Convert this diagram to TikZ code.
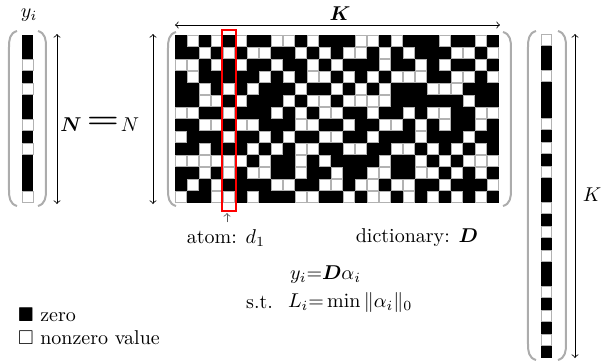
\documentclass[tikz,border=0pt]{standalone}
\usepackage{amssymb}
\usepackage{amsmath}
\usepackage{bm}
\usetikzlibrary{arrows}

\tikzset{
  paren/.style={draw=gray!65, line width=1pt},
  dimline/.style={<->, >=to, line width=0.4pt},
  nzcell/.style={fill=white, draw=gray!60, line width=0.3pt},
}

\begin{document}
\begin{tikzpicture}[x=0.5pt,y=-0.5pt]
	\useasboundingbox (0,0) rectangle (602,361);

	% signal y_i
	\fill (22,35) rectangle (33.5,203);
	\foreach \r in {3,5,8,10,14}
		\draw[nzcell] (22.5,{35+12*(\r-1)+0.5}) rectangle ++(10.5,11);
	\draw[paren] (17,31) .. controls (10,33) and (9,39) .. (9,47) -- (9,190) .. controls (9,198) and (10,204) .. (17,206);
	\draw[paren] (38,31) .. controls (45,33) and (46,39) .. (46,47) -- (46,190) .. controls (46,198) and (45,204) .. (38,206);
	\node (ylab) at (29,15) {$y_i$};

	% dimension N
	\coordinate (nleftTop) at (57,34);
	\coordinate (nleftBot) at (57,204);
	\coordinate (nrightTop) at (153,34);
	\coordinate (nrightBot) at (153,204);
	\draw[dimline] (nleftTop) -- (nleftBot);
	\draw[dimline] (nrightTop) -- (nrightBot);
	\node (nbold) at (71,125) {$\bm{N}$};
	\node (eqsign) at (103,122) {\scalebox{1.8}[1.3]{$\bm{=}$}};
	\node (nital) at (130,125) {$N$};

	% dictionary D
	\fill (175,35) rectangle (499,203);
	\foreach \r/\cs in {
			1/{2,4,6,9,10,12,16,17,19,23,26},
			2/{3,5,7,8,11,13,15,16,18,20,24,25,27},
			3/{1,2,4,6,9,12,14,18,21,23,26},
			4/{2,8,10,12,13,15,17,19,20,21,24,25,27},
			5/{3,5,7,11,14,16,18,22,23,24},
			6/{3,4,6,10,12,13,15,16,17,18,25},
			7/{1,2,5,9,11,13,14,17,20,22,23,26,27},
			8/{3,4,6,7,11,12,15,18,19,21,23,26},
			9/{1,5,8,10,13,14,17,21,25},
			10/{3,7,9,11,12,15,16,19,20,22,24,26},
			11/{1,2,3,4,5,6,8,11,13,18,21,23,25,26,27},
			12/{3,5,7,8,11,14,17,18,21,22,24,26},
			13/{2,4,9,10,13,14,16,17,19,20,23,27},
			14/{1,4,5,7,11,12,15,17,18,20,22,24,26}}
		\foreach \c in \cs
			\draw[nzcell] ({175+12*(\c-1)+0.5},{35+12*(\r-1)+0.5}) rectangle ++(11,11);
	\draw[paren] (176,32) .. controls (169,34) and (168,40) .. (168,48) -- (168,190) .. controls (168,198) and (169,204) .. (176,206);
	\draw[paren] (503,32) .. controls (510,34) and (511,40) .. (511,48) -- (511,190) .. controls (511,198) and (510,204) .. (503,206);
	\coordinate (kleft) at (175,25);
	\coordinate (kright) at (500,25);
	\draw[dimline] (kleft) -- (kright);
	\node (ktop) at (340,14) {$\bm{K}$};

	% atom d_1
	\draw[red, line width=1pt] (222,30) rectangle (236,211);
	\coordinate (atomtip) at (227,213);
	\node (atom) at (226,238) {atom: $d_1$};
	\draw[->, >=to, gray!70!black] (atom.north -| atomtip) -- (atomtip);
	\node (dict) at (417,238) {dictionary: $\bm{D}$};

	% sparse code alpha_i
	\fill (541,34) rectangle (552,358);
	\foreach \r in {1,4,8,10,12,15,17,19,22,24,26}
		\draw[nzcell] (541.5,{34+12*(\r-1)+0.5}) rectangle ++(10,11);
	\draw[paren] (536,31) .. controls (529,33) and (528,39) .. (528,47) -- (528,344) .. controls (528,352) and (529,358) .. (536,360);
	\draw[paren] (558,31) .. controls (565,33) and (566,39) .. (566,47) -- (566,344) .. controls (566,352) and (565,358) .. (558,360);
	\coordinate (kdimTop) at (575,34);
	\coordinate (kdimBot) at (575,358);
	\draw[dimline] (kdimTop) -- (kdimBot);
	\node (kside) at (592,195) {$K$};

	% model
	\node[anchor=west] (eqone) at (283,275) {$y_i{=}\bm{D}\alpha_i$};
	\node[anchor=west] (eqtwo) at (281,302) {$L_i{=}\min\|\alpha_i\|_0$};
	\node[anchor=east] (st) at (280,302) {s.t.};

	% legend
	\node[anchor=west] (lzero) at (11,315) {$\blacksquare$ zero};
	\node[anchor=west] (lnonzero) at (11,338) {$\square$ nonzero value};
\end{tikzpicture}
\end{document}
